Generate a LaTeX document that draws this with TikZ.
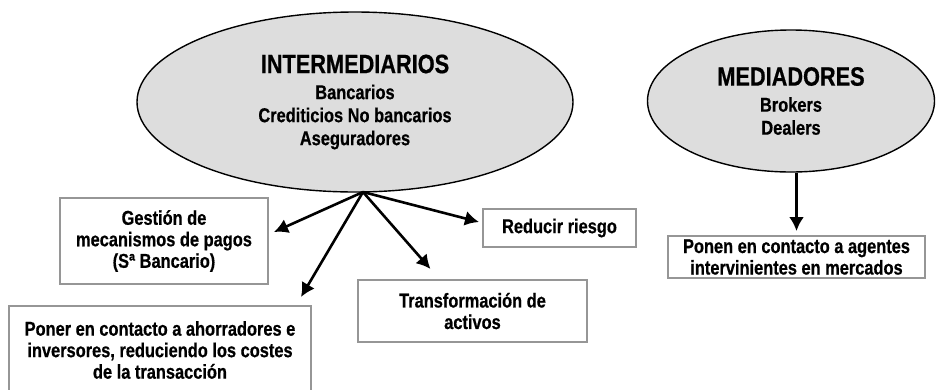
\documentclass[tikz,border=0pt]{standalone}
\usepackage{fontspec}
\setmainfont{Liberation Sans}[FakeStretch=0.82, BoldFeatures={FakeBold=0.6}]
\usepackage{xcolor}
\usetikzlibrary{shapes.geometric, positioning, calc, arrows.meta}
\definecolor{ovalgray}{RGB}{221,221,221}
\definecolor{framegray}{RGB}{150,150,150}
\tikzset{oval/.style={
          draw,
          ellipse,
          fill=ovalgray,
          line width=1.4pt,
          inner sep=0pt,
          align=center,
          font=\bfseries\fontsize{20}{23}\selectfont
     }}
\tikzset{task/.style={ % plain gray box
        draw=framegray,
        rectangle,
        line width=2pt,
        inner sep=0pt,
        align=center,
        font=\bfseries\fontsize{20}{21.5}\selectfont
    }}
\tikzstyle{arrow} = [line width=2.6pt,-{Latex[length=14pt,width=15pt]}]
\newcommand{\tit}[1]{{\fontsize{26.5}{28}\selectfont #1}}

\begin{document}
\begin{tikzpicture}[x=1pt,y=-1pt]
\useasboundingbox (0,0) rectangle (936,389);
\node (interm) [oval, minimum width=436pt, minimum height=180pt] at (355,102) {\tit{INTERMEDIARIOS}\\[3pt] Bancarios\\ Crediticios No bancarios\\ Aseguradores};
\node (mediad) [oval, minimum width=287pt, minimum height=142pt] at (791,101) {\tit{MEDIADORES}\\[3pt] Brokers\\ Dealers};
\coordinate (hub) at (363,192);
\node (gestion) [task, minimum width=208pt, minimum height=86pt] at (164,241) {Gestión de\\ mecanismos de pagos\\ (Sª Bancario)};
\node (poner) [task, minimum width=302pt, minimum height=88pt] at (160,350) {Poner en contacto a ahorradores e\\ inversores, reduciendo los costes\\ de la transacción};
\node (transf) [task, minimum width=229pt, minimum height=62pt] at (472.5,311) {Transformación de\\ activos};
\node (reducir) [task, minimum width=153pt, minimum height=38pt] at (559.5,228) {Reducir riesgo};
\node (ponen) [task, minimum width=257pt, minimum height=42pt] at (796.5,257) {Ponen en contacto a agentes\\ intervinientes en mercados};

\draw [arrow] (hub) -- ([xshift=5pt,yshift=9pt]gestion.east);
\draw [arrow] (hub) -- ([xshift=-11pt,yshift=8pt]poner.north east);
\draw [arrow] (hub) -- ([xshift=-42pt,yshift=10pt]transf.north);
\draw [arrow] (hub) -- ([xshift=-3pt,yshift=6pt]reducir.west);
\draw [arrow] (mediad.south -| ponen.north) -- ([yshift=4pt]ponen.north);
\end{tikzpicture}
\end{document}
